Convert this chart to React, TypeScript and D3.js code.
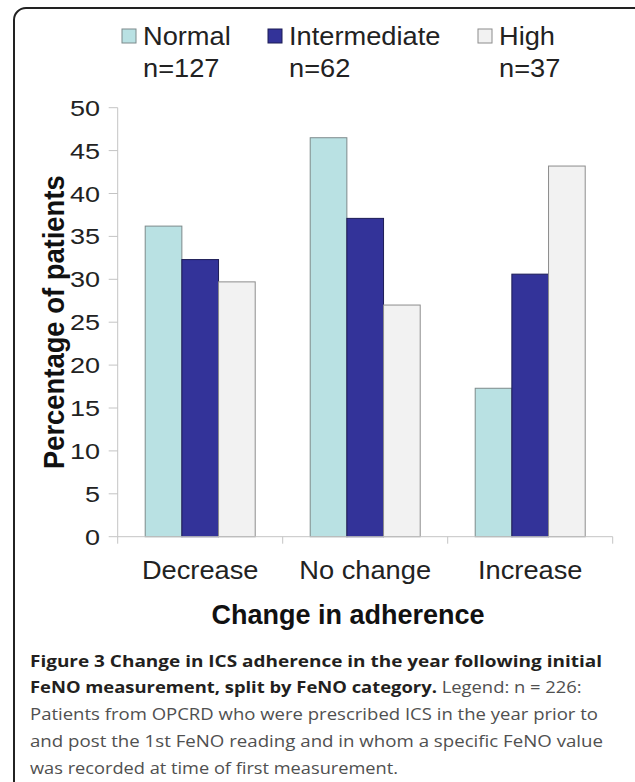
// @ts-nocheck
import React, { useEffect, useRef } from 'react'
import * as d3 from 'd3'

const categories = ['Decrease', 'No change', 'Increase']
const seriesNames = ['Normal', 'Intermediate', 'High']
const seriesCounts = ['n=127', 'n=62', 'n=37']
const normalValues = [36.2, 46.5, 17.3]
const intermediateValues = [32.3, 37.1, 30.6]
const highValues = [29.7, 27.0, 43.2]
const yTicks = [0, 5, 10, 15, 20, 25, 30, 35, 40, 45, 50]

const xTitle = 'Change in adherence'
const yTitle = 'Percentage of patients'

const captionBold1 = 'Figure 3 Change in ICS adherence in the year following initial'
const captionBold2 = 'FeNO measurement, split by FeNO category.'
const captionRest2 = ' Legend: n = 226:'
const captionLines = [
    'Patients from OPCRD who were prescribed ICS in the year prior to',
    'and post the 1st FeNO reading and in whom a specific FeNO value',
    'was recorded at time of first measurement.'
]

const fills = ['#b9e1e3', '#333399', '#f2f2f2']
const strokes = ['#7d8a8b', '#1c1c55', '#8c8c8c']

const App = () => {
    const ref = useRef(null)

    useEffect(() => {
        const left = 117.7, right = 612.7, top = 107.7, bottom = 536.7
        const font = "'Liberation Sans', Arial, sans-serif"

        const svg = d3.select(ref.current)
        svg.selectAll('*').remove()

        const rows = categories.map((c, i) => ({
            category: c,
            values: [normalValues[i], intermediateValues[i], highValues[i]]
        }))

        const x = d3.scaleBand(categories, [left, right])
        const xInner = d3.scaleBand(seriesNames, [27.5, x.bandwidth() - 27.5])
        const y = d3.scaleLinear([0, 50], [bottom, top])

        // frame round the figure
        svg.append('rect')
            .attr('x', 14).attr('y', 8)
            .attr('width', 640).attr('height', 800)
            .attr('rx', 12)
            .attr('fill', 'none')
            .attr('stroke', '#222')
            .attr('stroke-width', 2)

        // y axis
        const yAxis = svg.append('g')
        yAxis.append('line')
            .attr('x1', left).attr('x2', left)
            .attr('y1', top).attr('y2', bottom)
            .attr('stroke', '#c4c4c4')
        yAxis.selectAll('.tick')
            .data(yTicks)
            .join('line')
            .attr('x1', left - 9).attr('x2', left)
            .attr('y1', d => y(d)).attr('y2', d => y(d))
            .attr('stroke', '#c4c4c4')
        yAxis.selectAll('text')
            .data(yTicks)
            .join('text')
            .attr('transform', d => `translate(100, ${y(d) + 8}) scale(1.2, 1)`)
            .attr('text-anchor', 'end')
            .attr('font-family', font)
            .attr('font-size', 22.5)
            .attr('fill', '#222')
            .text(d => d)

        // bars
        svg.append('g')
            .selectAll('g')
            .data(rows)
            .join('g')
            .attr('transform', d => `translate(${x(d.category)}, 0)`)
            .selectAll('rect')
            .data(d => d.values.map((v, i) => ({ key: seriesNames[i], value: v, i })))
            .join('rect')
            .attr('x', d => xInner(d.key))
            .attr('y', d => y(d.value))
            .attr('width', xInner.bandwidth())
            .attr('height', d => y(0) - y(d.value))
            .attr('fill', d => fills[d.i])
            .attr('stroke', d => strokes[d.i])
            .attr('stroke-width', 1)

        // x axis
        const xAxis = svg.append('g')
        xAxis.append('line')
            .attr('x1', left).attr('x2', right)
            .attr('y1', bottom).attr('y2', bottom)
            .attr('stroke', '#c4c4c4')
        const bounds = categories.map(c => x(c)).concat([right])
        xAxis.selectAll('.tick')
            .data(bounds)
            .join('line')
            .attr('x1', d => d).attr('x2', d => d)
            .attr('y1', bottom).attr('y2', bottom + 7)
            .attr('stroke', '#c4c4c4')
        xAxis.selectAll('text')
            .data(categories)
            .join('text')
            .attr('transform', d => `translate(${x(d) + x.bandwidth() / 2}, 579) scale(1.09, 1)`)
            .attr('text-anchor', 'middle')
            .attr('font-family', font)
            .attr('font-size', 25)
            .attr('fill', '#222')
            .text(d => d)

        // axis titles
        svg.append('text')
            .attr('x', 348).attr('y', 624)
            .attr('text-anchor', 'middle')
            .attr('font-family', font)
            .attr('font-weight', 'bold')
            .attr('font-size', 27)
            .attr('fill', '#111')
            .text(xTitle)

        svg.append('text')
            .attr('transform', `translate(64, ${(top + bottom) / 2}) scale(1.05, 1) rotate(-90)`)
            .attr('text-anchor', 'middle')
            .attr('font-family', font)
            .attr('font-weight', 'bold')
            .attr('font-size', 27.4)
            .attr('fill', '#111')
            .text(yTitle)

        // legend
        const legendX = [122, 268, 478]
        const legend = svg.append('g')
            .selectAll('g')
            .data(seriesNames)
            .join('g')
            .attr('transform', (d, i) => `translate(${legendX[i]}, 0)`)
        legend.append('rect')
            .attr('x', 0).attr('y', 29)
            .attr('width', 14).attr('height', 14)
            .attr('fill', (d, i) => fills[i])
            .attr('stroke', (d, i) => strokes[i])
        legend.append('text')
            .attr('transform', 'translate(21, 45) scale(1.09, 1)')
            .attr('font-family', font)
            .attr('font-size', 25)
            .attr('fill', '#222')
            .text(d => d)
        legend.append('text')
            .attr('transform', 'translate(21, 77) scale(1.09, 1)')
            .attr('font-family', font)
            .attr('font-size', 25)
            .attr('fill', '#222')
            .text((d, i) => seriesCounts[i])

        // caption
        const capFont = "'Open Sans', 'Noto Sans', sans-serif"
        const cap = svg.append('g').attr('font-family', capFont).attr('font-size', 16.4)
        cap.append('text')
            .attr('x', 30).attr('y', 666.7)
            .attr('font-weight', 'bold')
            .attr('fill', '#231f20')
            .attr('textLength', 572)
            .attr('lengthAdjust', 'spacingAndGlyphs')
            .text(captionBold1)
        const line2 = cap.append('text')
            .attr('x', 30).attr('y', 693.3)
            .attr('textLength', 551.7)
            .attr('lengthAdjust', 'spacingAndGlyphs')
        line2.append('tspan').attr('font-weight', 'bold').attr('fill', '#231f20').text(captionBold2)
        line2.append('tspan').attr('fill', '#505050').text(captionRest2)
        const lineEnds = [598, 603, 398]
        cap.selectAll('.rest')
            .data(captionLines)
            .join('text')
            .attr('x', 30)
            .attr('y', (d, i) => 720 + i * 26.9)
            .attr('fill', '#505050')
            .attr('textLength', (d, i) => lineEnds[i] - 30)
            .attr('lengthAdjust', 'spacingAndGlyphs')
            .text(d => d)
    }, [])

    return <svg ref={ref} width='635' height='782'
        style={{ position: 'absolute', left: 0, top: 0, background: '#fff' }}></svg>
}

export default App
